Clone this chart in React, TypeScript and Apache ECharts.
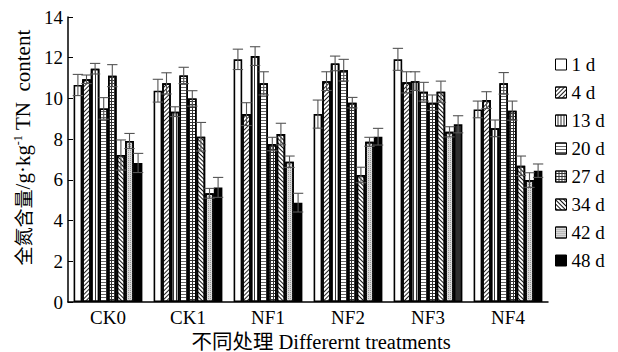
import React, { useEffect, useRef } from "react";
import * as echarts from "echarts";

const categories = ["CK0", "CK1", "NF1", "NF2", "NF3", "NF4"];
const days = ["1 d", "4 d", "13 d", "20 d", "27 d", "34 d", "42 d", "48 d"];
const yTicks = [0, 2, 4, 6, 8, 10, 12, 14];

const d1 = [10.66, 10.38, 11.92, 9.23, 11.92, 9.46];
const d4 = [10.94, 10.74, 9.23, 10.85, 10.79, 9.92];
const d13 = [11.46, 9.35, 12.08, 11.72, 10.85, 8.53];
const d20 = [9.51, 11.13, 10.74, 11.39, 10.33, 10.74];
const d27 = [11.12, 10.0, 7.76, 9.79, 9.79, 9.4];
const d34 = [7.22, 8.12, 8.25, 6.24, 10.33, 6.69];
const d42 = [7.91, 5.34, 6.89, 7.87, 8.36, 5.99];
const d48 = [6.83, 5.63, 4.88, 8.12, 8.73, 6.45];

const e1 = [0.52, 0.56, 0.5, 0.69, 0.54, 0.41];
const e4 = [0.21, 0.52, 0.56, 0.46, 0.52, 0.41];
const e13 = [0.26, 0.24, 0.46, 0.36, 0.46, 0.41];
const e20 = [0.53, 0.4, 0.57, 0.53, 0.46, 0.53];
const e27 = [0.54, 0.38, 0.33, 0.26, 0.38, 0.47];
const e34 = [0.74, 0.7, 0.53, 0.38, 0.52, 0.48];
const e42 = [0.37, 0.24, 0.28, 0.22, 0.25, 0.36];
const e48 = [0.47, 0.49, 0.46, 0.41, 0.42, 0.33];

const values = [d1, d4, d13, d20, d27, d34, d42, d48];
const errors = [e1, e4, e13, e20, e27, e34, e42, e48];

const FONT = "'Liberation Serif', 'Noto Sans CJK SC', serif";
const CJK = "'Noto Sans CJK SC', sans-serif";
const GAP_RATIO = 0.14;

const decals: any[] = [
  null,
  { symbol: "rect", symbolSize: 1, dashArrayX: [1, 0], dashArrayY: [1, 2], rotation: -Math.PI / 4, color: "#222", backgroundColor: "#fff" },
  { symbol: "rect", symbolSize: 1, dashArrayX: [1, 0], dashArrayY: [1, 2], rotation: Math.PI / 2, color: "#333", backgroundColor: "#fff" },
  { symbol: "rect", symbolSize: 1, dashArrayX: [1, 0], dashArrayY: [1, 2], rotation: 0, color: "#666", backgroundColor: "#fff" },
  { symbol: "rect", symbolSize: 1, dashArrayX: [[1, 0], [1, 2], [1, 2]], dashArrayY: [1, 0], rotation: 0, color: "#333", backgroundColor: "#fff" },
  { symbol: "rect", symbolSize: 1, dashArrayX: [1, 0], dashArrayY: [1, 1.5], rotation: Math.PI / 4, color: "#111", backgroundColor: "#fff" },
  { symbol: "rect", symbolSize: 1, dashArrayX: [1, 1], dashArrayY: [1, 1], rotation: 0, color: "#999", backgroundColor: "#e0e0e0" },
  null,
];
const fills = ["#fff", "#fff", "#fff", "#fff", "#fff", "#fff", "#d8d8d8", "#000"];

export default function App() {
  const ref = useRef<HTMLDivElement>(null);
  useEffect(() => {
    if (!ref.current) return;
    const chart = echarts.init(ref.current, undefined, { renderer: "svg" });

    const barSeries = days.map((d, s) => ({
      name: d,
      type: "bar",
      data: values[s].map((v, c) =>
        s === 7 && c === 4 ? { value: v, itemStyle: { color: "#2e2e2e" } } : v
      ),
      barGap: "0%",
      barCategoryGap: GAP_RATIO * 100 + "%",
      itemStyle: {
        color: fills[s],
        borderColor: "#000",
        borderWidth: 1.6,
        decal: decals[s] || undefined,
      },
    }));

    const errData: number[][] = [];
    categories.forEach((_, c) => {
      days.forEach((_, s) => {
        errData.push([c, values[s][c], errors[s][c], s]);
      });
    });

    const option: any = {
      animation: false,
      textStyle: { fontFamily: FONT },
      grid: { left: 68, right: 70, top: 17, bottom: 50, outerBoundsMode: "none" },
      legend: {
        data: days,
        orient: "vertical",
        left: 550,
        top: 50,
        itemWidth: 11,
        itemHeight: 11,
        itemGap: 9,
        icon: "rect",
        textStyle: { fontFamily: FONT, fontSize: 19, color: "#000" },
        itemStyle: { borderColor: "#000", borderWidth: 1 },
      },
      xAxis: {
        type: "category",
        data: categories,
        axisLine: { lineStyle: { color: "#000", width: 1.5 } },
        axisTick: { inside: true, length: 4, lineStyle: { color: "#000" } },
        axisLabel: { fontFamily: FONT, fontSize: 19, color: "#000", margin: 6 },
        name: "不同处理 Differernt treatments",
        nameLocation: "middle",
        nameGap: 27,
        nameTextStyle: {
          fontFamily: FONT, fontSize: 20.5, lineHeight: 20, color: "#000", padding: [0, 0, 0, 26],
        },
      },
      yAxis: {
        type: "value",
        min: 0,
        max: 14,
        interval: 2,
        splitLine: { show: false },
        axisLine: { show: true, lineStyle: { color: "#000", width: 1.5 } },
        axisTick: { show: true, inside: true, length: 5, lineStyle: { color: "#000" } },
        axisLabel: {
          fontFamily: FONT, fontSize: 19, color: "#000", margin: 5,
          formatter: (v: number) => (yTicks.includes(v) ? String(v) : ""),
        },
        name: "{zh|全氮含量}{la|/g·kg}{sup|-1}{la| TN  content}",
        nameLocation: "middle",
        nameGap: 31,
        nameTextStyle: {
          fontFamily: FONT, fontSize: 21, color: "#000", padding: [0, 0, 0, 24],
          rich: {
            zh: { fontFamily: CJK, fontSize: 19, color: "#000" },
            la: { fontFamily: FONT, fontSize: 21, color: "#000" },
            sup: { fontFamily: FONT, fontSize: 12, color: "#000", verticalAlign: "top", padding: [0, 0, 9, 0] },
          },
        },
      },
      series: [
        ...barSeries,
        {
          type: "custom",
          name: "err",
          z: 10,
          data: errData,
          encode: { x: 0, y: 1 },
          renderItem: (params: any, api: any) => {
            const c = api.value(0);
            const v = api.value(1);
            const e = api.value(2);
            const s = api.value(3);
            const catW = api.size([1, 0])[0];
            const groupW = catW * (1 - GAP_RATIO);
            const bw = groupW / days.length;
            const center = api.coord([c, 0])[0];
            const x = center - groupW / 2 + (s + 0.5) * bw;
            const yT = api.coord([c, v + e])[1];
            const yB = api.coord([c, v - e])[1];
            const h = bw * 0.6;
            const st = { stroke: "#555", lineWidth: 1.1 };
            return {
              type: "group",
              children: [
                { type: "line", shape: { x1: x, y1: yT, x2: x, y2: yB }, style: st },
                { type: "line", shape: { x1: x - h, y1: yT, x2: x + h, y2: yT }, style: st },
                { type: "line", shape: { x1: x - h, y1: yB, x2: x + h, y2: yB }, style: st },
              ],
            };
          },
        },
      ],
    };
    chart.setOption(option);
    return () => chart.dispose();
  }, []);
  return <div ref={ref} style={{ width: 618, height: 352, position: "absolute", left: 0, top: 0, background: "#fff" }} />;
}
